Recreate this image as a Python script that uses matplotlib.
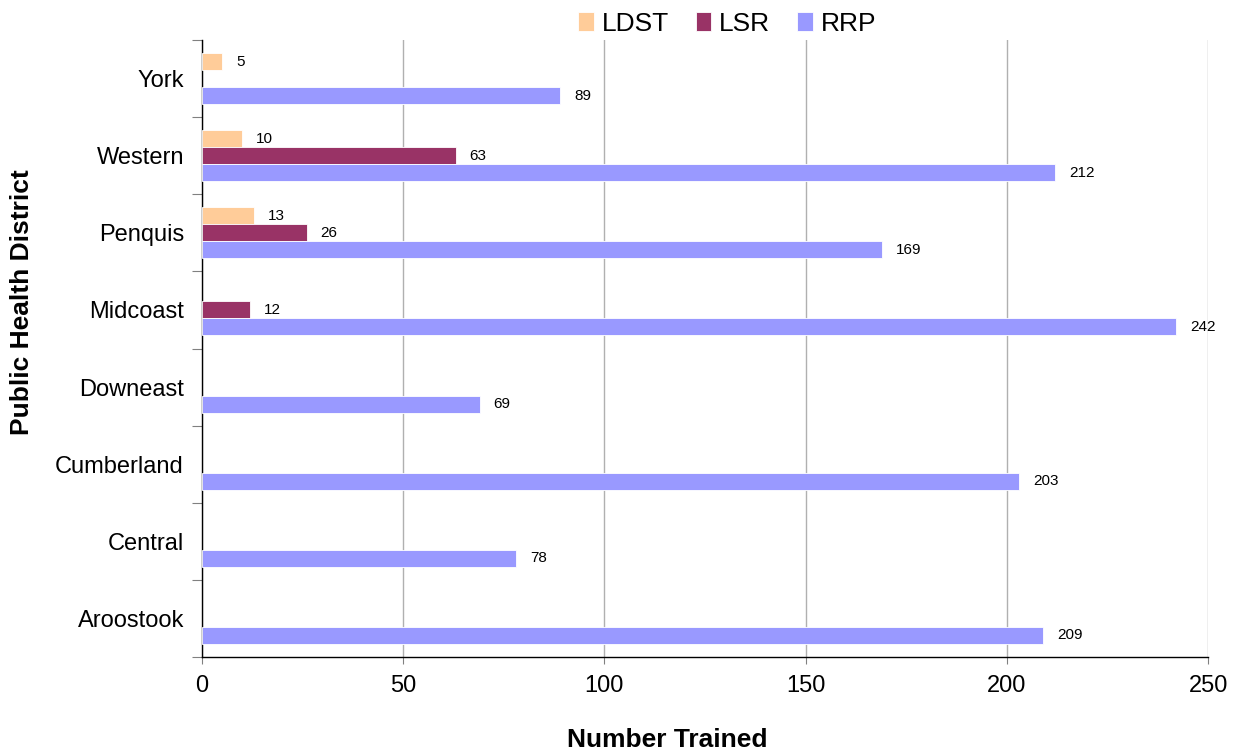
import numpy as np
import matplotlib
matplotlib.use("Agg")
import matplotlib.pyplot as plt
from matplotlib.ticker import FixedLocator, NullFormatter

plt.rcParams['font.family'] = ['Liberation Sans', 'DejaVu Sans']

# data, bottom to top as drawn
districts = ["Aroostook", "Central", "Cumberland", "Downeast",
             "Midcoast", "Penquis", "Western", "York"]
ldst = [None, None, None, None, None, 13, 10, 5]
lsr = [None, None, None, None, 12, 26, 63, None]
rrp = [209, 78, 203, 69, 242, 169, 212, 89]

series = [("LDST", ldst, "#FFCC99", 0.22),
          ("LSR", lsr, "#993366", 0.0),
          ("RRP", rrp, "#9999FF", -0.22)]

fig = plt.figure(figsize=(12.33, 7.56), dpi=100)
ax = fig.add_axes([0.1638, 0.131, 0.816, 0.816])

y = np.arange(len(districts))
bar_h = 0.22
for name, vals, color, off in series:
    ys = [yi + off for yi, v in zip(y, vals) if v is not None]
    vs = [v for v in vals if v is not None]
    ax.barh(ys, vs, height=bar_h, color=color, edgecolor="white",
            linewidth=0.6, label=name, zorder=3)
    for yy, v in zip(ys, vs):
        ax.text(v + 3.5, yy, str(v), fontsize=11, va="center",
                ha="left", zorder=4)

ax.set_xlim(0, 250)
ax.set_ylim(-0.5, len(districts) - 0.5)
ax.set_xticks([0, 50, 100, 150, 200, 250])
ax.tick_params(axis="x", labelsize=17, length=5, color="#808080", pad=8)
ax.xaxis.grid(True, color="#b0b0b0", linewidth=1, zorder=0)

# band boundaries as major ticks, names on minor ticks
ax.yaxis.set_major_locator(FixedLocator(np.arange(-0.5, len(districts), 1.0)))
ax.yaxis.set_major_formatter(NullFormatter())
ax.yaxis.set_minor_locator(FixedLocator(y))
ax.set_yticklabels(districts, minor=True)
ax.tick_params(axis="y", which="major", length=7, color="#808080")
ax.tick_params(axis="y", which="minor", length=0, labelsize=17, pad=21 - 8)

for s in ["top", "right"]:
    ax.spines[s].set_visible(False)
ax.spines["left"].set_linewidth(1)
ax.spines["bottom"].set_linewidth(1)

fig.text(667 / 1233, 1 - 740 / 756, "Number Trained", fontsize=19,
         fontweight="bold", ha="center", va="center")
fig.text(22 / 1233, 1 - 302 / 756, "Public Health District", fontsize=19,
         fontweight="bold", ha="center", va="center", rotation=90)

ax.legend(loc="lower center", bbox_to_anchor=(0.522, 0.99), ncol=3,
          frameon=False, fontsize=19, handlelength=0.6, handleheight=0.7,
          handletextpad=0.3, columnspacing=1.0, borderaxespad=0)

fig.savefig("out.png", dpi=100)
